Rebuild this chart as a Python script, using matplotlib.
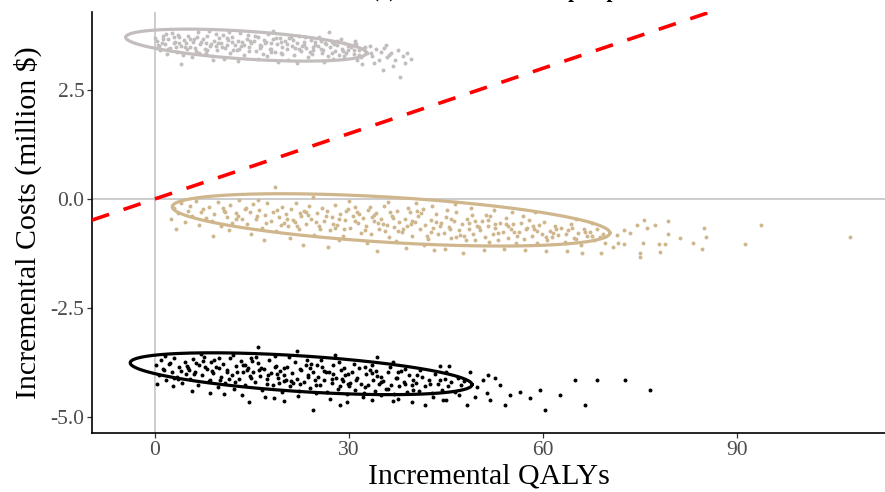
import numpy as np
import matplotlib
matplotlib.use("Agg")
import matplotlib.pyplot as plt

# Cost-effectiveness plane: incremental QALYs vs incremental costs (million $)
WTP = 0.05  # million $ per QALY (dashed threshold line)

# --- group 1 (grey, top) ---
grey_x = [0.3, 0.8, 1.2, 1.5, 2.0, 2.3, 2.7, 3.1, 3.4, 3.8, 4.1, 4.5, 4.9, 0.6, 1.9, 2.9, 3.6, 4.4, 0.1, 1.1,
          5.2, 5.5, 5.9, 6.3, 6.6, 7.0, 7.4, 7.7, 8.1, 8.5, 8.8, 9.2, 9.6, 9.9, 5.8, 6.9, 7.9, 8.3, 9.4, 6.1, 9.0,
          10.2, 10.5, 10.9, 11.3, 11.6, 12.0, 12.4, 12.7, 13.1, 13.5, 13.8, 14.2, 14.6, 14.9, 10.7, 11.9, 12.9, 13.3, 14.4, 11.1,
          15.3, 15.6, 16.0, 16.4, 16.7, 17.1, 17.5, 17.8, 18.2, 18.6, 18.9, 19.3, 19.7, 15.9, 17.3, 18.0, 19.0, 16.9, 19.5,
          20.1, 20.4, 20.8, 21.2, 21.5, 21.9, 22.3, 22.6, 23.0, 23.4, 23.7, 24.1, 24.5, 24.8, 20.6, 22.0, 23.2, 24.3, 21.7,
          25.2, 25.6, 25.9, 26.3, 26.7, 27.0, 27.4, 27.8, 28.1, 28.5, 28.9, 29.2, 29.6, 26.1, 27.6, 28.7, 29.9, 25.4,
          30.3, 30.7, 31.1, 31.5, 31.9, 32.3, 32.7, 33.2, 33.6, 34.1, 34.6, 30.9, 32.0, 33.9, 34.9, 31.3,
          35.4, 35.9, 36.5, 37.1, 37.6, 38.3, 39.0, 35.2, 36.8, 38.6, 35.7, 37.9, 39.6, 36.2, 4.0, 18.3, 26.9]
grey_y = [3.62, 3.41, 3.75, 3.55, 3.68, 3.47, 3.80, 3.60, 3.38, 3.71, 3.52, 3.64, 3.44, 3.50, 3.33, 3.58, 3.77, 3.30, 3.70, 3.58,
          3.73, 3.49, 3.61, 3.39, 3.82, 3.56, 3.67, 3.45, 3.74, 3.52, 3.28, 3.63, 3.41, 3.70, 3.25, 3.34, 3.58, 3.86, 3.50, 3.66, 3.19,
          3.58, 3.77, 3.46, 3.65, 3.36, 3.72, 3.54, 3.42, 3.81, 3.60, 3.31, 3.68, 3.49, 3.57, 3.22, 3.61, 3.17, 3.50, 3.76, 3.53,
          3.63, 3.40, 3.71, 3.52, 3.33, 3.59, 3.78, 3.45, 3.66, 3.37, 3.55, 3.70, 3.48, 3.21, 3.27, 3.58, 3.15, 3.64, 3.36,
          3.62, 3.43, 3.69, 3.51, 3.30, 3.58, 3.74, 3.39, 3.60, 3.47, 3.25, 3.65, 3.42, 3.54, 3.20, 3.13, 3.71, 3.33, 3.46,
          3.50, 3.63, 3.36, 3.57, 3.28, 3.48, 3.61, 3.39, 3.53, 3.31, 3.45, 3.58, 3.35, 3.14, 3.21, 3.67, 3.42, 3.72,
          3.49, 3.33, 3.55, 3.41, 3.26, 3.46, 3.37, 3.51, 3.29, 3.43, 3.20, 3.62, 3.09, 3.12, 3.38, 3.18,
          3.47, 3.26, 3.36, 3.18, 3.42, 3.29, 3.35, 2.95, 3.05, 3.12, 3.53, 2.80, 3.22, 3.31, 3.09, 3.86, 3.84]
grey_x2 = [0.5, 1.3, 2.1, 2.9, 3.7, 4.6, 5.4, 6.2, 7.1, 7.9, 8.7, 9.5, 10.4, 11.2, 12.1, 12.9, 13.8, 14.6, 15.5, 16.3,
           17.2, 18.0, 18.8, 19.6, 20.5, 21.3, 22.2, 23.0, 23.9, 24.7, 25.6, 26.4, 27.3, 28.1, 29.0, 29.8, 30.7, 31.6, 32.5, 33.4,
           1.7, 3.2, 4.8, 6.5, 8.0, 9.7, 11.4, 13.0, 14.7, 16.2, 17.9, 19.5, 21.1, 22.8, 24.4, 26.0, 27.7, 29.3, 31.0, 32.8]
grey_y2 = [3.53, 3.66, 3.44, 3.72, 3.57, 3.49, 3.68, 3.46, 3.61, 3.35, 3.55, 3.79, 3.49, 3.69, 3.41, 3.63, 3.54, 3.39, 3.74, 3.47,
           3.60, 3.43, 3.70, 3.32, 3.56, 3.64, 3.44, 3.53, 3.38, 3.61, 3.45, 3.55, 3.34, 3.62, 3.40, 3.50, 3.42, 3.30, 3.48, 3.36,
           3.79, 3.48, 3.58, 3.71, 3.42, 3.57, 3.83, 3.45, 3.62, 3.54, 3.38, 3.60, 3.72, 3.51, 3.48, 3.41, 3.55, 3.27, 3.58, 3.34]

# --- group 2 (tan, middle) ---
tan_x = [2.5, 3.0, 3.6, 4.1, 4.7, 5.2, 5.8, 6.3, 6.9, 7.4, 7.9, 3.3, 5.5, 7.1,
         8.3, 8.8, 9.2, 9.7, 10.2, 10.7, 11.1, 11.6, 12.0, 12.5, 13.0, 13.4, 13.9, 9.0, 11.4, 12.8, 10.5,
         14.3, 14.7, 15.2, 15.6, 16.1, 16.5, 17.0, 17.4, 17.9, 18.3, 18.8, 19.2, 19.6, 14.9, 16.8, 18.5, 19.9, 15.9,
         20.2, 20.6, 21.0, 21.4, 21.8, 22.2, 22.6, 23.0, 23.4, 23.8, 24.2, 24.6, 25.0, 25.4, 25.8, 20.9, 22.9, 24.4, 21.6, 23.6,
         26.2, 26.6, 27.0, 27.4, 27.8, 28.2, 28.6, 29.0, 29.4, 29.8, 30.2, 30.6, 31.0, 31.4, 31.8, 26.8, 28.4, 30.0, 31.2, 27.6, 29.2,
         32.2, 32.6, 33.0, 33.4, 33.8, 34.2, 34.6, 35.0, 35.4, 35.8, 36.2, 36.6, 37.0, 37.4, 37.8, 32.8, 34.4, 36.0, 37.2, 33.6, 35.6,
         38.2, 38.6, 39.0, 39.4, 39.8, 40.2, 40.6, 41.0, 41.4, 41.8, 42.2, 42.6, 43.0, 43.4, 43.8, 38.8, 40.4, 41.6, 42.8, 39.6, 43.2,
         44.2, 44.6, 45.0, 45.4, 45.8, 46.2, 46.6, 47.0, 47.4, 47.8, 48.2, 48.6, 49.0, 49.4, 49.8, 44.8, 46.4, 47.6, 48.8, 45.6, 49.2,
         50.2, 50.6, 51.0, 51.4, 51.8, 52.2, 52.6, 53.0, 53.4, 53.8, 54.2, 54.6, 55.0, 55.4, 55.8, 50.8, 52.4, 54.0, 55.2, 51.6,
         56.2, 56.6, 57.0, 57.4, 57.8, 58.2, 58.6, 59.0, 59.4, 59.8, 60.2, 60.6, 61.0, 61.4, 61.8, 57.2, 58.8, 60.4, 56.9,
         62.3, 62.8, 63.3, 63.8, 64.3, 64.8, 65.3, 65.8, 66.3, 66.8, 67.3, 67.8, 68.3, 68.8, 69.3, 63.6, 65.0, 66.0, 67.5, 69.6,
         71.4, 72.5, 73.4, 74.5, 75.6, 76.0, 77.3, 79.3, 79.3, 77.9, 78.8, 75.0, 75.0, 78.0, 72.5, 75.4, 81.1, 83.2, 84.5,
         84.9, 85.2, 91.2, 93.7, 107.4, 71.6, 68.9, 70.8]
tan_y = [-0.45, -0.20, -0.33, -0.10, -0.52, -0.27, -0.38, -0.05, -0.60, -0.22, -0.44, -0.68, -0.15, -0.31,
         -0.18, -0.50, -0.35, -0.08, -0.62, -0.28, -0.42, -0.14, -0.55, -0.33, -0.03, -0.47, -0.24, -0.85, -0.72, -0.39, -0.20,
         -0.58, -0.31, -0.12, -0.45, -0.26, -0.66, -0.37, -0.09, -0.51, -0.29, -0.74, -0.41, -0.18, -0.80, -0.95, 0.27, -0.55, -0.02,
         -0.35, -0.62, -0.22, -0.48, -0.10, -0.70, -0.40, -0.27, -0.58, -0.15, -0.45, -0.83, -0.33, -0.61, -0.20, -0.90, -1.05, 0.05, -0.52, -0.37,
         -0.50, -0.28, -0.72, -0.42, -0.13, -0.60, -0.35, -0.85, -0.48, -0.22, -0.66, -0.40, -0.18, -0.55, -0.77, -1.10, -0.95, -0.04, -0.31, -0.57, -0.69,
         -0.44, -0.62, -0.25, -0.80, -0.51, -0.33, -0.70, -0.46, -0.15, -0.59, -0.88, -0.38, -0.64, -0.27, -0.52, -1.02, -1.20, -0.06, -0.97, -0.41, -0.73,
         -0.75, -0.45, -0.62, -0.30, -0.85, -0.53, -0.40, -0.70, -0.22, -0.60, -0.92, -0.48, -0.67, -0.35, -0.80, -1.12, -0.10, -1.05, -0.15, -0.58, -1.18,
         -0.55, -0.78, -0.42, -0.65, -0.90, -0.50, -0.31, -0.72, -0.58, -0.86, -0.45, -0.68, -0.37, -0.95, -0.61, -1.14, -0.12, -1.25, -0.20, -0.70, -0.80,
         -0.72, -0.50, -0.88, -0.62, -0.40, -0.80, -0.66, -0.95, -0.54, -0.75, -0.44, -0.90, -0.69, -0.58, -1.00, -1.18, -0.25, -1.15, -0.30, -0.98,
         -0.76, -0.55, -0.92, -0.68, -0.48, -0.84, -0.70, -1.02, -0.60, -0.80, -0.52, -0.95, -0.74, -0.88, -0.63, -1.18, -0.30, -1.20, -0.40,
         -0.82, -0.66, -0.98, -0.72, -0.58, -0.90, -0.78, -1.05, -0.68, -0.86, -0.75, -0.95, -0.70, -0.88, -0.80, -1.20, -0.45, -1.25, -0.55, -1.02,
         -0.83, -0.71, -0.78, -0.60, -0.48, -0.67, -0.60, -0.50, -0.80, -1.03, -1.03, -1.24, -1.33, -1.21, -1.03, -1.00, -0.90, -1.00, -1.15,
         -0.66, -0.87, -1.03, -0.60, -0.87, -1.01, -1.23, -1.10]
tan_x2 = [10.8, 12.6, 14.1, 15.8, 17.2, 18.9, 20.4, 21.9, 23.3, 24.9, 26.4, 27.9, 29.5, 30.9, 32.4, 33.9, 35.3, 36.8, 38.3, 39.7,
          41.2, 42.7, 44.1, 45.7, 47.1, 48.6, 50.1, 51.5, 53.0, 54.5, 56.0, 57.5, 59.0, 60.5, 62.0, 63.5, 65.0, 66.5,
          19.5, 22.5, 25.5, 28.5, 31.5, 34.5, 37.5, 40.5, 43.5, 46.5, 49.5, 52.5, 55.5, 58.5, 61.5, 64.5, 67.5,
          33.2, 36.4, 39.1, 42.0, 45.2, 48.0, 51.2, 54.3]
tan_y2 = [-0.30, -0.46, -0.20, -0.38, -0.55, -0.25, -0.45, -0.62, -0.30, -0.52, -0.38, -0.66, -0.28, -0.50, -0.72, -0.36, -0.58, -0.44, -0.68, -0.50,
          -0.33, -0.75, -0.62, -0.45, -0.82, -0.55, -0.65, -0.48, -0.78, -0.62, -0.85, -0.66, -0.74, -0.87, -0.70, -0.80, -0.92, -0.76,
          -0.60, -0.33, -0.70, -0.47, -0.35, -0.55, -0.74, -0.28, -0.52, -0.88, -0.50, -0.58, -0.76, -0.62, -0.78, -0.66, -0.84,
          -0.18, -0.30, -0.20, -0.85, -0.25, -0.95, -0.36, -0.58]

# --- group 3 (black, bottom) ---
black_x = [0.2, 0.6, 1.0, 1.4, 1.8, 2.2, 2.6, 3.0, 3.4, 3.8, 4.2, 4.6, 0.4, 1.6, 2.8, 4.0, 4.8,
           5.2, 5.5, 5.9, 6.2, 6.6, 6.9, 7.3, 7.6, 8.0, 8.3, 8.7, 9.0, 9.4, 9.7, 5.7, 7.1, 8.5, 9.9, 6.4, 8.9,
           10.2, 10.5, 10.9, 11.2, 11.6, 11.9, 12.3, 12.6, 13.0, 13.3, 13.7, 14.0, 14.4, 14.7, 10.7, 12.1, 13.5, 14.9, 11.4, 13.9,
           15.2, 15.5, 15.9, 16.2, 16.6, 16.9, 17.3, 17.6, 18.0, 18.3, 18.7, 19.0, 19.4, 19.7, 15.7, 17.1, 18.5, 19.9, 16.4, 18.9,
           20.2, 20.5, 20.9, 21.2, 21.6, 21.9, 22.3, 22.6, 23.0, 23.3, 23.7, 24.0, 24.4, 24.7, 20.7, 22.1, 23.5, 24.9, 21.4, 23.9,
           25.2, 25.5, 25.9, 26.2, 26.6, 26.9, 27.3, 27.6, 28.0, 28.3, 28.7, 29.0, 29.4, 29.7, 25.7, 27.1, 28.5, 29.9, 26.4, 28.9,
           30.2, 30.5, 30.9, 31.2, 31.6, 31.9, 32.3, 32.6, 33.0, 33.3, 33.7, 34.0, 34.4, 34.7, 30.7, 32.1, 33.5, 34.9,
           35.3, 35.7, 36.1, 36.5, 36.9, 37.3, 37.7, 38.1, 38.5, 38.9, 39.3, 39.7, 36.3, 37.5, 38.7, 39.9,
           40.3, 40.8, 41.3, 41.8, 42.3, 42.8, 43.3, 43.8, 44.3, 44.8, 45.3, 45.8, 46.3, 46.8, 47.3, 47.8, 41.0, 43.0, 45.0, 47.0,
           15.9, 21.9, 27.8, 34.3, 36.8, 44.0, 45.4, 14.5, 18.4, 19.9, 24.4, 28.6, 29.7, 33.5, 36.8, 39.7, 41.7, 44.5, 45.0,
           48.2, 49.5, 51.3, 49.8, 48.7, 51.5, 52.5, 50.7, 53.3, 54.9, 58.0, 59.5, 62.6, 64.9, 66.5, 68.3, 72.6, 76.5, 60.3,
           56.4, 54.1, 51.8]
black_y = [-3.82, -4.05, -3.70, -3.93, -4.15, -3.78, -3.98, -3.64, -4.08, -3.86, -4.22, -3.73, -4.25, -3.60, -4.30, -3.95, -4.02,
           -3.88, -4.12, -3.68, -3.97, -4.26, -3.80, -4.05, -3.62, -3.91, -4.18, -3.74, -4.00, -3.85, -4.32, -4.40, -3.55, -4.45, -3.66, -3.76, -3.95,
           -4.08, -3.79, -4.22, -3.92, -3.65, -4.03, -4.35, -3.83, -4.12, -3.72, -3.96, -4.26, -3.87, -4.06, -4.48, -3.58, -4.50, -3.66, -4.14, -3.81,
           -3.98, -4.20, -3.76, -4.07, -4.38, -3.90, -4.13, -3.70, -4.00, -4.28, -3.84, -4.10, -3.95, -4.42, -3.62, -4.55, -3.60, -4.18, -3.89, -4.02,
           -4.15, -3.86, -4.30, -4.00, -3.75, -4.12, -4.40, -3.92, -4.20, -3.82, -4.05, -4.33, -3.97, -4.15, -3.63, -4.52, -3.70, -4.45, -4.22, -3.89,
           -4.08, -4.28, -3.85, -4.16, -4.42, -3.98, -4.22, -3.80, -4.10, -4.35, -3.93, -4.18, -4.03, -4.48, -3.70, -4.58, -3.74, -4.25, -3.96, -4.12,
           -4.22, -3.96, -4.38, -4.10, -3.88, -4.25, -4.46, -4.02, -4.28, -3.92, -4.15, -4.40, -4.06, -4.24, -3.78, -4.55, -3.82, -4.50,
           -4.18, -4.36, -3.98, -4.26, -4.48, -4.10, -4.30, -3.95, -4.20, -4.42, -4.05, -4.28, -3.85, -4.58, -3.90, -4.15,
           -4.22, -4.40, -4.08, -4.30, -4.15, -4.45, -4.02, -4.25, -4.38, -4.12, -4.30, -4.20, -4.42, -4.10, -4.28, -4.18, -3.92, -4.55, -3.98, -4.50,
           -3.39, -3.49, -3.58, -3.62, -3.74, -3.83, -3.83, -4.66, -4.56, -4.63, -4.84, -4.72, -4.66, -4.61, -4.63, -4.66, -4.72, -4.61, -4.61,
           -4.72, -4.54, -4.45, -4.31, -3.97, -4.04, -4.10, -4.15, -4.27, -4.50, -4.56, -4.38, -4.50, -4.15, -4.72, -4.15, -4.15, -4.38, -4.84,
           -4.43, -4.72, -4.61]
black_x2 = [1.2, 2.4, 3.6, 4.9, 6.1, 7.4, 8.6, 9.9, 11.1, 12.4, 13.6, 14.9, 16.1, 17.4, 18.6, 19.9, 21.1, 22.4, 23.6, 24.9,
            26.1, 27.4, 28.6, 29.9, 31.1, 32.4, 33.6, 34.9, 36.1, 37.4, 38.6, 39.9,
            3.0, 5.3, 7.8, 10.1, 12.7, 15.0, 17.5, 20.0, 22.5, 25.0, 27.5, 30.0, 32.5, 35.0, 37.5, 40.5, 42.5, 44.0,
            9.2, 14.2, 19.2, 24.2, 29.2, 34.2]
black_y2 = [-3.90, -3.76, -4.12, -3.84, -4.02, -3.72, -4.16, -3.88, -3.98, -4.20, -3.80, -4.10, -3.92, -4.25, -3.85, -4.04, -4.18, -3.90, -4.08, -4.28,
            -3.95, -4.12, -4.30, -4.02, -4.15, -4.32, -4.00, -4.20, -4.35, -4.10, -4.25, -4.38,
            -4.10, -3.92, -3.85, -4.15, -3.96, -3.72, -4.05, -3.88, -4.25, -3.82, -4.02, -4.30, -3.86, -4.08, -3.98, -4.05, -4.25, -4.15,
            -3.70, -3.93, -4.22, -3.78, -3.88, -3.95]

# 95% ellipses: centre x, centre y, half-width, tilt drop, half-height
ell_grey = [14.1, 3.53, 18.6, -0.18, 0.32]
ell_tan = [36.5, -0.48, 33.8, -0.30, 0.52]
ell_black = [22.6, -4.01, 26.4, -0.25, 0.41]

GREY = "#C3BDBD"
TAN = "#CFB68C"


def ellipse_xy(p):
    cx, cy, a, drop, b = p
    t = np.linspace(0, 2 * np.pi, 300)
    return cx + a * np.cos(t), cy + drop * np.cos(t) + b * np.sin(t)


plt.rcParams["font.family"] = ["Liberation Serif", "DejaVu Serif"]

fig = plt.figure(figsize=(8.85, 4.92), dpi=100)
ax = fig.add_axes([92 / 885, 1 - 433 / 492, 1 - 92 / 885, (433 - 12) / 492])

ax.axhline(0, color="#BEBEBE", lw=1.1, zorder=1)
ax.axvline(0, color="#BEBEBE", lw=1.1, zorder=1)

groups = [(grey_x + grey_x2, grey_y + grey_y2, GREY, ell_grey),
          (tan_x + tan_x2, tan_y + tan_y2, TAN, ell_tan),
          (black_x + black_x2, black_y + black_y2, "black", ell_black)]
for xs, ys, col, ell in groups:
    ax.scatter(xs, ys, s=8, color=col, linewidths=0, zorder=2)
    ex, ey = ellipse_xy(ell)
    ax.plot(ex, ey, color=col, lw=2.3, zorder=3)

ax.axline((0, 0), slope=WTP, color="#FF0000", lw=2.6, dashes=(5, 4.2), zorder=4)

ax.set_xlim(-9.7, 112.8)
ax.set_ylim(-5.37, 4.29)
ax.set_xticks([0, 30, 60, 90])
ax.set_yticks([-5.0, -2.5, 0.0, 2.5])
ax.set_yticklabels(["-5.0", "-2.5", "0.0", "2.5"])

for s in ["top", "right"]:
    ax.spines[s].set_visible(False)
for s in ["left", "bottom"]:
    ax.spines[s].set_linewidth(1.2)
ax.tick_params(length=3.5, width=0.9, color="#333333", labelsize=15.5,
               labelcolor="#4D4D4D", pad=2)

ax.set_xlabel("Incremental QALYs", fontsize=21.5, labelpad=3)
ax.set_ylabel("Incremental Costs (million $)", fontsize=21.5, labelpad=6)

# title sits mostly above the cropped top edge, as in the source image
fig.text(372 / 885, 1 + 3.5 / 492, "(a) Health care sector perspective",
         fontsize=15, fontweight="bold", ha="left", va="baseline")

fig.savefig("out.png", dpi=100)
